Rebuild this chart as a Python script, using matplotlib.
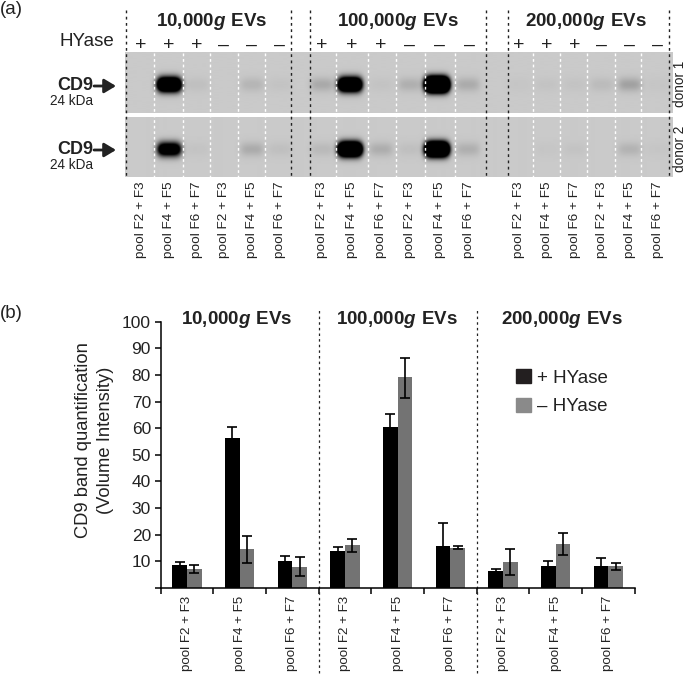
import numpy as np
from matplotlib import pyplot as plt
from matplotlib.patches import Patch

plt.rcParams['font.family'] = ['Liberation Sans', 'DejaVu Sans']
plt.rcParams['mathtext.fontset'] = 'custom'
plt.rcParams['mathtext.rm'] = 'Liberation Sans'
plt.rcParams['mathtext.bf'] = 'Liberation Sans:bold'
plt.rcParams['mathtext.bfit'] = 'Liberation Sans:italic:bold'

W, H = 688, 674

group_titles = [r'$\mathbf{10{,}000}\mathbfit{g}\mathbf{\ EVs}$',
                r'$\mathbf{100{,}000}\mathbfit{g}\mathbf{\ EVs}$',
                r'$\mathbf{200{,}000}\mathbfit{g}\mathbf{\ EVs}$']
pools = ['pool F2 + F3', 'pool F4 + F5', 'pool F6 + F7']

# blot, lanes left to right
lane_x = [141, 169, 197, 224, 252, 280,
          322, 352, 381, 410, 440, 469,
          519, 547, 575, 602, 630, 658]
hyase = ['+', '+', '+', '–', '–', '–'] * 3
band_x = [141, 169, 197, 224, 252, 280,
          322, 350, 381, 410, 437, 468,
          519, 547, 575, 602, 630, 658]
donor1 = [0, 2.6, .05, 0, .10, .03,
          .16, 2.6, .03, .13, 4.5, .15,
          .02, .03, .03, .07, .2, .02]
donor2 = [0, 1.7, .03, 0, .15, .05,
          .08, 3.2, .14, .05, 3.6, .13,
          0, .02, .03, 0, .11, .02]
white_lines = [154, 183, 210, 238, 265, 336, 368, 396, 425, 455,
               533, 560, 587, 615, 641]
black_lines = [126, 290.5, 309.5, 486, 508, 669]

# bar chart
plus = [8.5, 56.4, 10.1, 14.0, 60.5, 15.9, 6.3, 8.3, 8.4]
plus_hi = [9.9, 60.6, 12.0, 15.4, 65.2, 24.5, 7.0, 10.1, 11.3]
minus = [7.1, 14.6, 7.9, 16.0, 79.1, 15.1, 9.8, 16.4, 8.1]
minus_hi = [8.8, 19.5, 11.6, 18.5, 86.5, 15.8, 14.8, 20.5, 9.5]
minus_lo = [5.8, 9.5, 4.4, 13.6, 71.5, 14.6, 4.9, 12.3, 6.6]

fig = plt.figure(figsize=(W / 100, H / 100), dpi=100)

# overlay in pixel coordinates for the blot panel and the labels
top = fig.add_axes([0, 0, 1, 1])
top.set(xlim=(0, W), ylim=(H, 0))
top.axis('off')


def gel(values, y0, y1, yc):
    xs = np.arange(125, 673.5, .5)
    ys = np.arange(y0, y1, .5)
    xx, yy = np.meshgrid(xs, ys)
    dark = np.zeros(xx.shape)
    for bx, amp in zip(band_x, values):
        dark += amp * np.exp(-((xx - bx) / 12) ** 4 - ((yy - yc) / 7) ** 2)
    img = .79 * (1 - np.clip(dark, 0, 1))
    top.imshow(img, cmap='gray', vmin=0, vmax=1, aspect='auto',
               extent=(125, 673, y1, y0), interpolation='bilinear')


gel(donor1, 53, 113.5, 85)
gel(donor2, 117, 177, 149)
top.set(xlim=(0, W), ylim=(H, 0))

top.vlines(white_lines, 53, 177, color='white', lw=1, ls=(0, (2, 2)))
top.vlines(black_lines, 10, 177, color='#222222', lw=1, ls=(0, (2, 2.5)))

for x, title in zip([212, 398, 586], group_titles):
    top.text(x, 22, title, fontsize=13.5, ha='center', va='center', color='#222222')
for x, sign, in zip(lane_x, hyase):
    top.text(x, 45, sign, fontsize=14, ha='center', va='center', color='#222222')

for i, x in enumerate(lane_x):
    top.text(x, 181, pools[i % 3], fontsize=9.7, rotation=90, ha='center', va='top', color='#222222')

top.text(114, 42, 'HYase', fontsize=13.5, ha='right', va='center', color='#222222')
top.text(0, 9, '(a)', fontsize=13.5, ha='left', va='center', color='#222222')
top.text(0, 314, '(b)', fontsize=13.5, ha='left', va='center', color='#222222')
for y in [86, 150]:
    top.text(93, y, 'CD9', fontsize=13, fontweight='bold', ha='right', va='center', color='#222222')
    top.text(93, y + 15, '24 kDa', fontsize=9.8, ha='right', va='center', color='#222222')
    top.annotate('', xy=(116, y), xytext=(94, y),
                 arrowprops=dict(arrowstyle='-|>,head_length=.5,head_width=.3', mutation_scale=14,
                                 color='#222222', lw=2, shrinkA=0, shrinkB=0))
top.text(680, 84, 'donor 1', fontsize=9.8, rotation=90, ha='center', va='center', color='#222222')
top.text(680, 149, 'donor 2', fontsize=9.8, rotation=90, ha='center', va='center', color='#222222')

top.text(83, 440, 'CD9 band quantification', fontsize=13.2, rotation=90, ha='center', va='center', color='#222222')
top.text(106, 440, '(Volume Intensity)', fontsize=13.2, rotation=90, ha='center', va='center', color='#222222')

for x, title in zip([237, 397, 562], group_titles):
    top.text(x, 319, title, fontsize=13.5, ha='center', va='center', color='#222222')

# bars
ax = fig.add_axes([160.7 / W, (H - 588) / H, 474 / W, 266.3 / H])
ax.patch.set_alpha(0)
x = np.arange(9)
bw = .28
err_kw = dict(ecolor='black', elinewidth=1.2, capsize=3.4, capthick=1.2)
ax.bar(x - bw / 2, plus, bw, color='black',
       yerr=[np.array(plus_hi) - np.array(plus), np.array(plus_hi) - np.array(plus)],
       error_kw=err_kw)
ax.bar(x + bw / 2, minus, bw, color='#737373',
       yerr=[np.array(minus) - np.array(minus_lo), np.array(minus_hi) - np.array(minus)],
       error_kw=err_kw)
ax.set(xlim=(-.5, 8.5), ylim=(0, 100))
ax.set_yticks(range(0, 101, 10))
ax.set_yticklabels([''] + [str(v) for v in range(10, 101, 10)], fontsize=12.5, color='#222222')
ax.set_xticks(np.arange(-.5, 9))
ax.set_xticklabels([])
ax.tick_params(length=4, width=1.1)
ax.tick_params(axis='y', pad=3)
for s in ['top', 'right']:
    ax.spines[s].set_visible(False)
for s in ['left', 'bottom']:
    ax.spines[s].set_linewidth(1.1)
ax.vlines([2.5, 5.5], -32, 105, color='#222222', lw=.9, ls=(0, (2, 2.5)), clip_on=False)
for i in x:
    ax.annotate(pools[i % 3], xy=(i, 0), xytext=(0, -7.5), textcoords='offset pixels',
                fontsize=9.6, rotation=90, ha='center', va='top', color='#222222')

handles = [Patch(color='#231f20', label='+ HYase'), Patch(color='#8a8a8a', label='– HYase')]
ax.legend(handles=handles, loc='upper left', bbox_to_anchor=(.75, .822), frameon=False, fontsize=13.5,
          handlelength=.8, handleheight=.8, handletextpad=.3, labelspacing=.58,
          borderpad=0, borderaxespad=0, labelcolor='#222222')

fig.savefig('out.png', dpi=100)
